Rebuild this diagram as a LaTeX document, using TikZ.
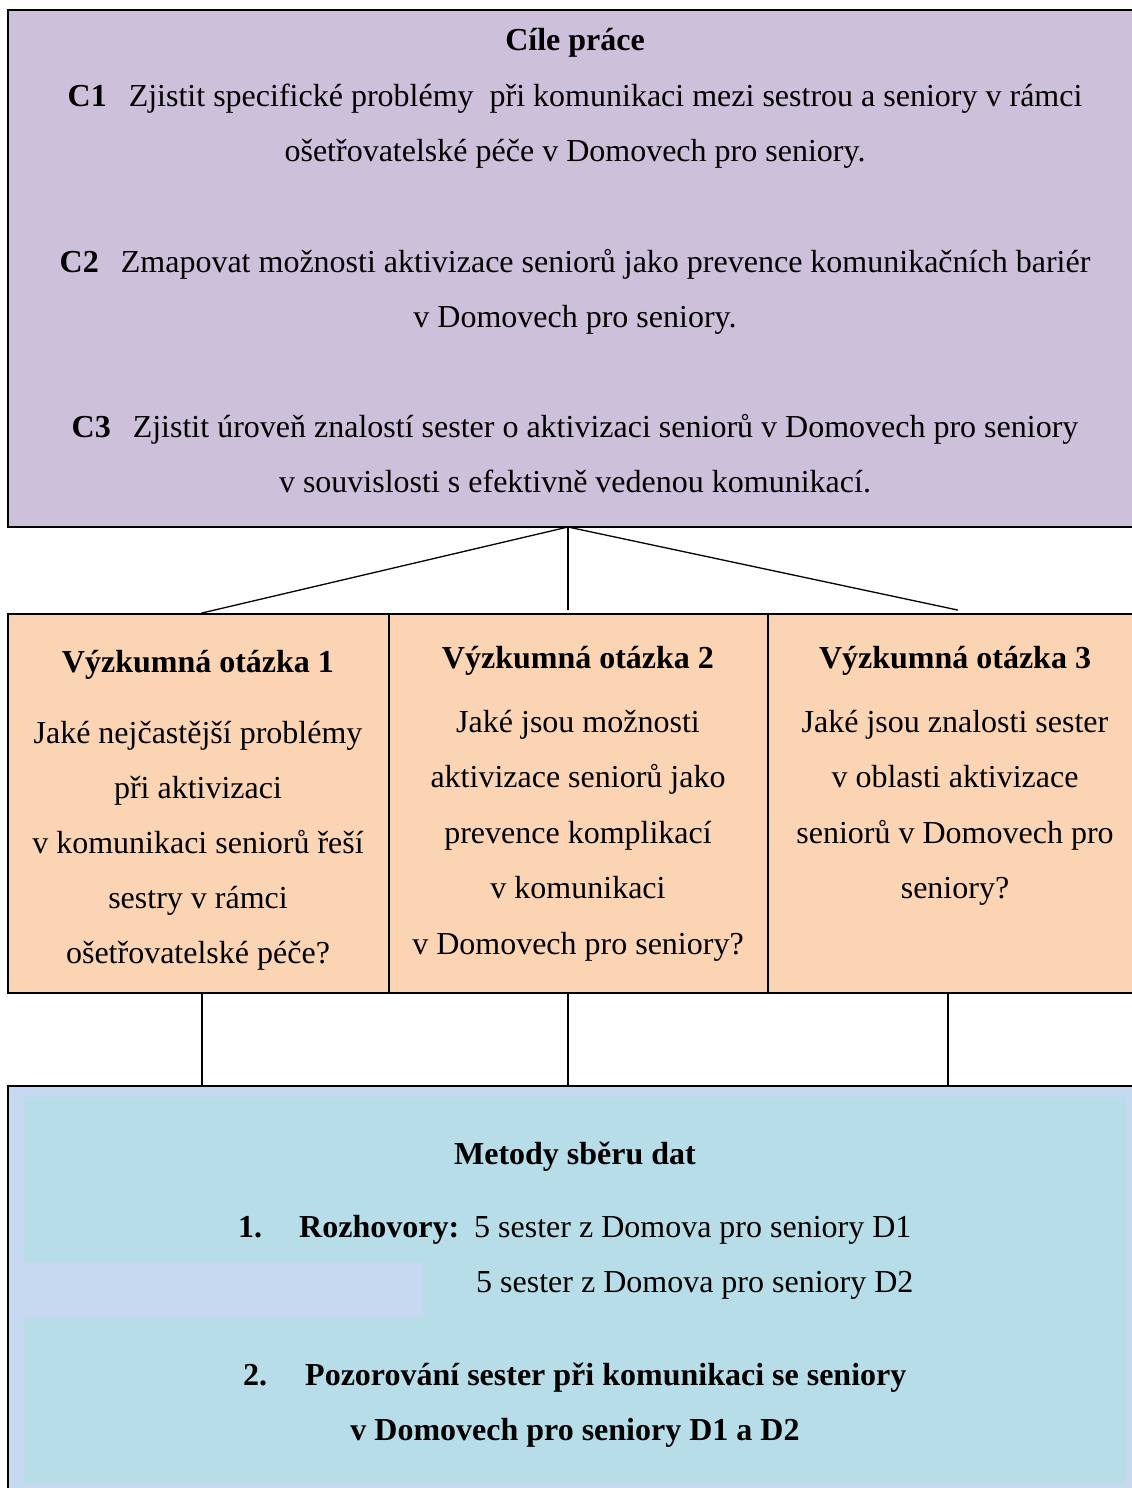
\documentclass[tikz,border=0pt]{standalone}
\usepackage{fontspec}
\setmainfont{Liberation Serif}
\definecolor{goalc}{HTML}{CCC0DA}
\definecolor{qc}{HTML}{FBD4B4}
\definecolor{methout}{HTML}{C6D9F1}
\definecolor{methin}{HTML}{B7DDE8}
\begin{document}
\begin{tikzpicture}[x=1pt,y=-1pt,
  font=\fontsize{32}{38}\selectfont,
  box/.style={draw=black, line width=1.8pt, rectangle, inner sep=0pt},
  txt/.style={anchor=base, inner sep=0pt},
  txtl/.style={anchor=base west, inner sep=0pt},
  link/.style={draw=black, line width=1.3pt}]
\useasboundingbox (0,0) rectangle (1132,1488);
\clip (0,0) rectangle (1132,1488);
% boxes
\node[box, fill=goalc, minimum width=1132pt, minimum height=517pt] (goals) at (574,268.5) {};
\node[box, fill=qc, minimum width=381pt, minimum height=379pt] (q1) at (198.5,803.5) {};
\node[box, fill=qc, minimum width=379pt, minimum height=379pt] (q2) at (578.5,803.5) {};
\node[box, fill=qc, minimum width=372pt, minimum height=379pt] (q3) at (954,803.5) {};
\node[box, fill=methout, minimum width=1132pt, minimum height=414pt] (meth) at (574,1293) {};
\fill[methin] (24,1097) rectangle (1126,1484);
\fill[methout] (24,1262) rectangle (423,1317);
% connectors
\coordinate (hub) at (568,527);
\draw[link] (hub) -- ([xshift=3pt]q1.north);
\draw[link] (hub) -- ([yshift=3pt]hub |- q2.north);
\draw[link] (hub) -- ([xshift=4pt,yshift=3pt]q3.north);
\coordinate (d1) at (202,993);
\coordinate (d2) at (568,993);
\coordinate (d3) at (948,993);
\draw[link] (d1) -- (d1 |- meth.north);
\draw[link] (d2) -- (d2 |- meth.north);
\draw[link] (d3) -- (d3 |- meth.north);
% goals text
\node[txt] (g0) at (575,51) {\bfseries Cíle práce};
\node[txt] (g1a) at (575,106) {\textbf{C1}\hspace{22pt}Zjistit specifické problémy\ \ při komunikaci mezi sestrou a seniory v rámci};
\node[txt] (g1b) at (575,161) {ošetřovatelské péče v Domovech pro seniory.};
\node[txt] (g2a) at (575,272) {\textbf{C2}\hspace{22pt}Zmapovat možnosti aktivizace seniorů jako prevence komunikačních bariér};
\node[txt] (g2b) at (575,327) {v Domovech pro seniory.};
\node[txt] (g3a) at (575,437) {\textbf{C3}\hspace{22pt}Zjistit úroveň znalostí sester o aktivizaci seniorů v Domovech pro seniory};
\node[txt] (g3b) at (575,492) {v souvislosti s efektivně vedenou komunikací.};
% question 1
\node[txt] (a0) at (198,672) {\bfseries Výzkumná otázka 1};
\node[txt] (a1) at (198,743) {Jaké nejčastější problémy};
\node[txt] (a2) at (198,798) {při aktivizaci};
\node[txt] (a3) at (198,853) {v komunikaci seniorů řeší};
\node[txt] (a4) at (198,908) {sestry v rámci};
\node[txt] (a5) at (198,963) {ošetřovatelské péče?};
% question 2
\node[txt] (b0) at (578,668) {\bfseries Výzkumná otázka 2};
\node[txt] (b1) at (578,732) {Jaké jsou možnosti};
\node[txt] (b2) at (578,787) {aktivizace seniorů jako};
\node[txt] (b3) at (578,843) {prevence komplikací};
\node[txt] (b4) at (578,898) {v komunikaci};
\node[txt] (b5) at (578,954) {v Domovech pro seniory?};
% question 3
\node[txt] (e0) at (955,668) {\bfseries Výzkumná otázka 3};
\node[txt] (e1) at (955,732) {Jaké jsou znalosti sester};
\node[txt] (e2) at (955,787) {v oblasti aktivizace};
\node[txt] (e3) at (955,843) {seniorů v Domovech pro};
\node[txt] (e4) at (955,898) {seniory?};
% methods text
\node[txt] (m0) at (575,1164) {\bfseries Metody sběru dat};
\node[txtl] (m1n) at (238,1237) {\bfseries 1.};
\node[txtl] (m1l) at (299,1237) {\bfseries Rozhovory:};
\node[txtl] (m1a) at (474,1237) {5 sester z Domova pro seniory D1};
\node[txtl] (m1b) at (476,1292) {5 sester z Domova pro seniory D2};
\node[txtl] (m2n) at (243,1385) {\bfseries 2.};
\node[txtl] (m2l) at (305,1385) {\bfseries Pozorování sester při komunikaci se seniory};
\node[txt] (m2b) at (575,1440) {\bfseries v Domovech pro seniory D1 a D2};
\end{tikzpicture}
\end{document}
